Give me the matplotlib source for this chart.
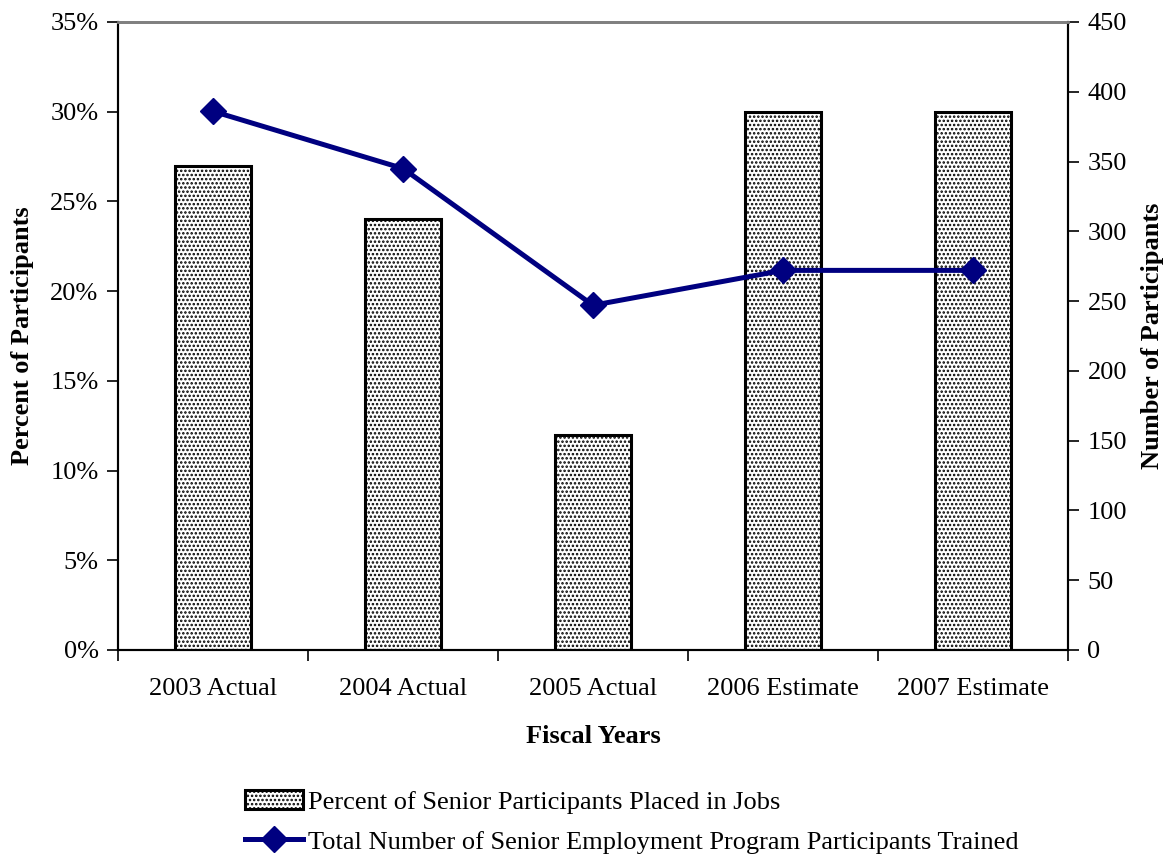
import matplotlib
matplotlib.use("Agg")
import matplotlib.pyplot as plt
import numpy as np
from matplotlib.ticker import FuncFormatter, FixedLocator

# Chart data
years = ["2003 Actual", "2004 Actual", "2005 Actual", "2006 Estimate", "2007 Estimate"]
pct_placed = [27, 24, 12, 30, 30]          # percent of senior participants placed in jobs
num_trained = [386, 345, 247, 272, 272]    # total participants trained

plt.rcParams["font.family"] = ["Liberation Serif", "DejaVu Serif"]
plt.rcParams["hatch.color"] = "#aaaaaa"
plt.rcParams["hatch.linewidth"] = 1.2

FS = 19

fig = plt.figure(figsize=(11.67, 8.55), dpi=100)
ax = fig.add_axes([0.1011, 0.2398, 0.8141, 0.7345])
ax2 = ax.twinx()

x = np.arange(len(years))
bars = ax.bar(x, pct_placed, width=0.4, facecolor="white", edgecolor="black",
              linewidth=2.2, hatch="....", zorder=2,
              label="Percent of Senior Participants Placed in Jobs")
line, = ax2.plot(x, num_trained, color="#000080", linewidth=3.6, marker="D",
                 markersize=13, zorder=3,
                 label="Total Number of Senior Employment Program Participants Trained")

ax.set_xlim(-0.5, len(years) - 0.5)
ax.set_ylim(0, 35)
ax2.set_ylim(0, 450)
ax.set_yticks(np.arange(0, 36, 5))
ax.yaxis.set_major_formatter(FuncFormatter(lambda v, p: f"{int(v)}%"))
ax2.set_yticks(np.arange(0, 451, 50))

# Category labels centred, tick marks at category boundaries
ax.set_xticks(x)
ax.set_xticklabels(years)
ax.tick_params(axis="x", which="major", length=0, pad=20, labelsize=FS)
ax.xaxis.set_minor_locator(FixedLocator(np.arange(-0.5, len(years), 1.0)))
ax.tick_params(axis="x", which="minor", length=8, width=1.2, direction="out")

ax.tick_params(axis="y", length=8, width=1.2, direction="out", labelsize=FS, pad=6)
ax2.tick_params(axis="y", length=8, width=1.2, direction="out", labelsize=FS, pad=6)

for a in (ax, ax2):
    a.spines["top"].set_color("#808080")
    a.spines["top"].set_linewidth(2)
    a.spines["left"].set_linewidth(1.5)
    a.spines["right"].set_linewidth(1.5)
    a.spines["bottom"].set_linewidth(1.5)

ax.set_ylabel("Percent of Participants", fontsize=FS, fontweight="bold", labelpad=12)
ax2.set_ylabel("Number of Participants", fontsize=FS, fontweight="bold",
               rotation=90, labelpad=10)
ax.set_xlabel("Fiscal Years", fontsize=FS, fontweight="bold", labelpad=18)

fig.legend(handles=[bars, line], loc="upper left", bbox_to_anchor=(0.2005, 0.088),
           frameon=False, fontsize=FS, handlelength=2.2, handletextpad=0.2,
           labelspacing=0.62, borderaxespad=0)

fig.savefig("out.png", dpi=100)
